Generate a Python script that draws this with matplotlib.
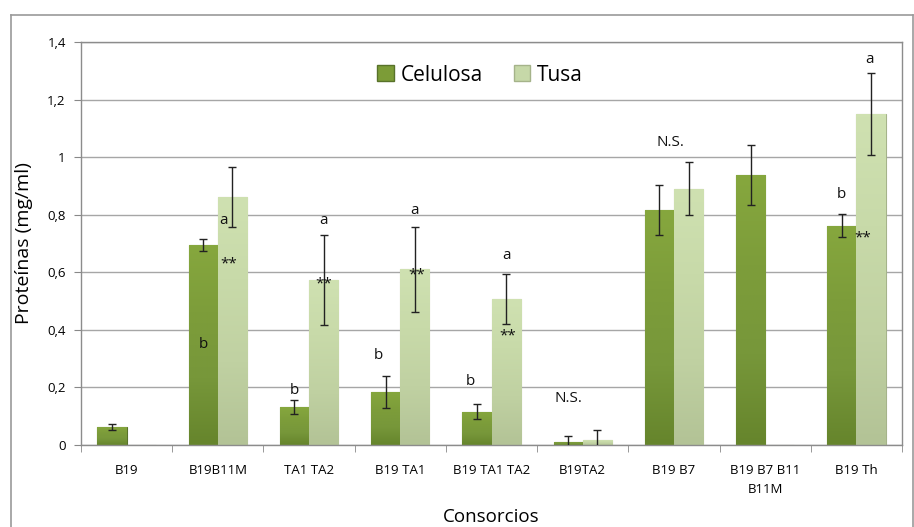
import numpy as np
import matplotlib
matplotlib.use("Agg")
import matplotlib.pyplot as plt
from matplotlib.patches import Patch
from matplotlib.lines import Line2D
from matplotlib.colors import LinearSegmentedColormap

plt.rcParams['font.family'] = ['Open Sans', 'DejaVu Sans']

categories = ["B19", "B19B11M", "TA1 TA2", "B19 TA1", "B19 TA1 TA2", "B19TA2",
              "B19 B7", "B19 B7 B11\nB11M", "B19 Th"]
celulosa = [0.063, 0.694, 0.131, 0.185, 0.116, 0.012, 0.816, 0.938, 0.762]
celulosa_err = [0.010, 0.020, 0.025, 0.055, 0.025, 0.019, 0.087, 0.103, 0.040]
tusa = [np.nan, 0.862, 0.573, 0.611, 0.506, 0.017, 0.890, np.nan, 1.149]
tusa_err = [np.nan, 0.103, 0.155, 0.148, 0.087, 0.034, 0.092, np.nan, 0.143]
yticks = [0, 0.2, 0.4, 0.6, 0.8, 1.0, 1.2, 1.4]
ytick_labels = ["0", "0,2", "0,4", "0,6", "0,8", "1", "1,2", "1,4"]

# annotations: (category index, series offset, y, text)
annotations = [
    (1, -0.5, 0.35, "b"), (1, 0.2, 0.78, "a"), (1, 0.38, 0.63, "**"),
    (2, -0.5, 0.19, "b"), (2, 0.5, 0.78, "a"), (2, 0.5, 0.56, "**"),
    (3, -0.76, 0.31, "b"), (3, 0.5, 0.815, "a"), (3, 0.55, 0.59, "**"),
    (4, -0.72, 0.22, "b"), (4, 0.5, 0.66, "a"), (4, 0.55, 0.38, "**"),
    (5, -0.5, 0.163, "N.S."),
    (6, -0.12, 1.05, "N.S."),
    (8, -0.5, 0.87, "b"), (8, 0.22, 0.72, "**"), (8, 0.45, 1.34, "a"),
]

fig = plt.figure(figsize=(9.14, 5.27), dpi=100)
ax = fig.add_axes([81/914, 82/527, 821/914, 403/527])

# outer chart border
fig.add_artist(Line2D([11/914, 11/914], [-0.01, 1 - 15/527], color="#9a9a9a", lw=1.2, transform=fig.transFigure))
fig.add_artist(Line2D([11/914, 913/914], [1 - 15/527, 1 - 15/527], color="#9a9a9a", lw=1.2, transform=fig.transFigure))
fig.add_artist(Line2D([913/914, 913/914], [-0.01, 1 - 15/527], color="#9a9a9a", lw=1.2, transform=fig.transFigure))

x = np.arange(len(categories))
w = 0.32

cmap_c = LinearSegmentedColormap.from_list("c", ["#66852c", "#77973a", "#7d9d3a", "#86a73e"])
cmap_t = LinearSegmentedColormap.from_list("t", ["#b3c396", "#c0d1a2", "#c8daa9", "#cfe1b1"])

bars_c = ax.bar(x - w/2, celulosa, w, color="#7c9c37", edgecolor="#58722a", lw=0.8, zorder=2)
bars_t = ax.bar(x + w/2, np.nan_to_num(tusa), w, color="#c6d8a8", edgecolor="#a5b38a", lw=0.8, zorder=2)

grad = np.linspace(0, 1, 100).reshape(-1, 1)
for bars, cm in ((bars_c, cmap_c), (bars_t, cmap_t)):
    for b in bars:
        h = b.get_height()
        if h <= 0:
            continue
        x0 = b.get_x()
        im = ax.imshow(grad, extent=(x0, x0 + b.get_width(), 0, h), origin="lower",
                       aspect="auto", cmap=cm, zorder=2.5, interpolation="bilinear")
        im.set_clip_path(b)

ax.errorbar(x - w/2, celulosa, yerr=celulosa_err, fmt="none", ecolor="#222222",
            elinewidth=1, capsize=3, capthick=1, zorder=4)
ax.errorbar(x + w/2, tusa, yerr=tusa_err, fmt="none", ecolor="#222222",
            elinewidth=1, capsize=3, capthick=1, zorder=4)

for ci, off, yv, t in annotations:
    ax.text(ci + off * w, yv, t, ha="center", va="center", fontsize=11, color="#111111", zorder=5)

ax.set_xlim(-0.5, len(categories) - 0.5)
ax.set_ylim(0, 1.4)
ax.set_yticks(yticks)
ax.set_yticklabels(ytick_labels, fontsize=9.5)
ax.set_xticks(x)
ax.set_xticklabels(categories, fontsize=9.5, linespacing=1.6)
ax.set_xticks(np.arange(len(categories) + 1) - 0.5, minor=True)
ax.tick_params(axis="x", which="major", length=0, pad=14)
ax.tick_params(axis="x", which="minor", length=5, color="#888888", direction="out")
ax.tick_params(axis="y", length=5, color="#888888", direction="out", pad=6)

ax.grid(axis="y", color="#a6a6a6", lw=1, zorder=0)
ax.set_axisbelow(True)
for s in ["left", "bottom", "right", "top"]:
    ax.spines[s].set_color("#8c8c8c")
    ax.spines[s].set_linewidth(1)

ax.set_ylabel("Proteínas (mg/ml)", fontsize=14, labelpad=10)
ax.set_xlabel("Consorcios", fontsize=13.5, labelpad=8)

handles = [Patch(facecolor="#7c9c37", edgecolor="#58722a"),
           Patch(facecolor="#c6d8a8", edgecolor="#a5b38a")]
ax.legend(handles, ["Celulosa", "Tusa"], loc="center", bbox_to_anchor=(0.486, 0.918),
          ncol=2, frameon=False, fontsize=15, handlelength=0.8, handleheight=0.8,
          handletextpad=0.3, columnspacing=1.5)

fig.savefig("out.png", dpi=100)
